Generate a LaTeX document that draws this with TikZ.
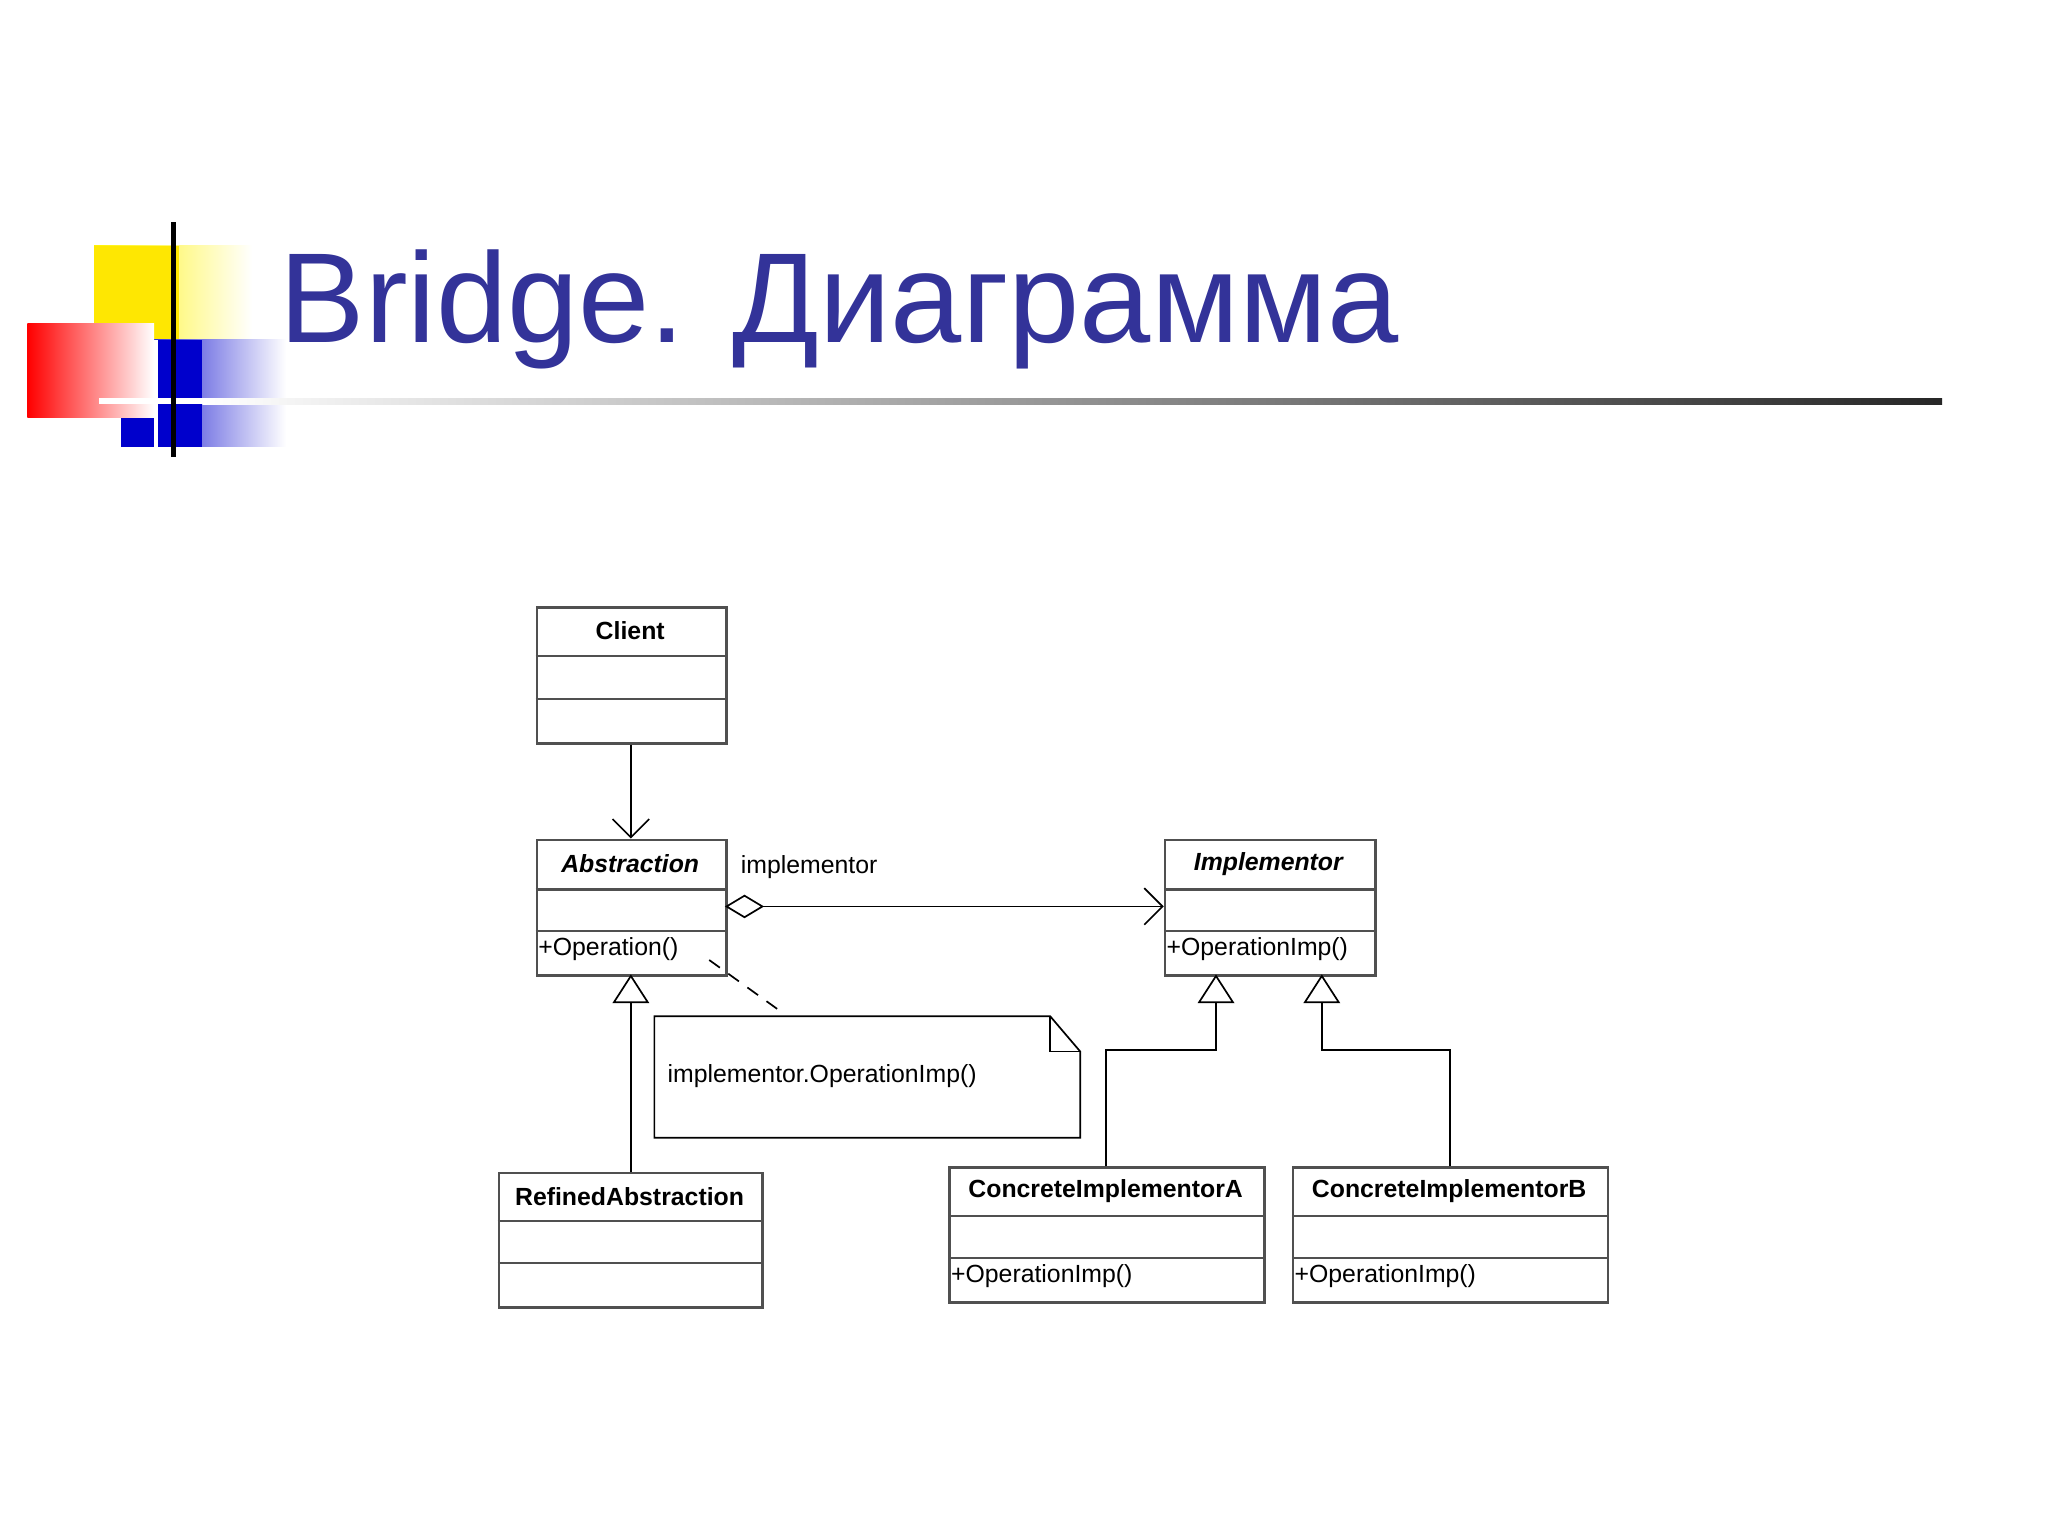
\documentclass[tikz,border=0pt]{standalone}
\usepackage{fontspec}
\setmainfont{Liberation Sans}
\usetikzlibrary{arrows.meta}
\definecolor{ttl}{HTML}{333399}
\definecolor{bx}{HTML}{505050}
\begin{document}
\begin{tikzpicture}[x=1pt,y=-1pt,
  cls/.style={draw=bx,line width=2pt,anchor=north west,inner sep=0pt},
  lbl/.style={font=\fontsize{19}{22}\selectfont,inner sep=1pt},
  ln/.style={draw=black,line width=1.3pt},
  tri/.style={-{Triangle[open,length=22pt,width=28pt,fill=white]}},
  opn/.style={-{Straight Barb[length=14pt,width=28pt,line width=1.3pt]}}]
\useasboundingbox[fill=white] (0,0) rectangle (1568,1176);
% logo
\shade[left color=yellow!90!orange, right color=white] (72,188) rectangle (193,262);
\fill[yellow!90!orange] (72,188) rectangle (137,262);
\shade[left color=blue!80!black, right color=white] (93,260) rectangle (219,342);
\fill[blue!80!black] (93,260) rectangle (155,342);
\shade[shading angle=45, left color=red, right color=white] (21,248) rectangle (118,320);
\fill[white] (76,305) rectangle (220,309);
\fill[white] (118,260) rectangle (121,342);
\fill[black] (131,170) rectangle (135,350);
\shade[left color=white, right color=black!85] (155,305) rectangle (1487,310);
\node[anchor=base west,text=ttl,font=\fontsize{98}{110}\selectfont,inner sep=0pt] (title) at (214,262) {Bridge. Диаграмма};
% classes
\newcommand\umlclass[8]{% name,x1,y1,x2,y2,d1,d2,label
  \node[cls,minimum width=#4-#2,minimum height=#5-#3] (#1) at (#2,#3) {};
  \draw[bx,line width=1.6pt] (#2,#6) -- (#4,#6) (#2,#7) -- (#4,#7);
  \node[lbl,anchor=center] (#1t) at ({(#2+#4)/2},{(#3+#6)/2}) {#8};}
\umlclass{client}{410}{464}{555}{568}{502}{535}{\textbf{Client}}
\umlclass{abs}{410}{642}{555}{746}{681}{713}{\textbf{\textit{Abstraction}}}
\umlclass{impl}{891}{642}{1052}{746}{681}{713}{\textbf{\textit{Implementor}}}
\umlclass{ref}{381}{897}{583}{1000}{935}{967}{\textbf{RefinedAbstraction}}
\umlclass{cia}{726}{893}{967}{996}{931}{963}{\textbf{ConcreteImplementorA}}
\umlclass{cib}{989}{893}{1230}{996}{931}{963}{\textbf{ConcreteImplementorB}}
\node[lbl,anchor=west] (absop) at (411,727) {+Operation()};
\node[lbl,anchor=west] (implop) at (892,727) {+OperationImp()};
\node[lbl,anchor=west] (ciaop) at (727,977) {+OperationImp()};
\node[lbl,anchor=west] (cibop) at (990,977) {+OperationImp()};
% note
\draw[ln,fill=white] (501,778) -- (804,778) -- (827,805) -- (827,871) -- (501,871) -- cycle;
\draw[ln] (804,778) -- (804,805) -- (827,805);
\node[lbl,anchor=west] (notet) at (510,824) {implementor.OperationImp()};
\coordinate (n1) at (543,735); \coordinate (n2) at (600,776);
\draw[ln,dashed,dash pattern=on 10pt off 8pt] (n1) -- (n2);
% connectors
\draw[ln,opn] (client.south -| 483,0) -- (483,642);
\coordinate (ag1) at (555,694); \coordinate (ag2) at (891,694);
\draw[ln,{Diamond[open,length=30pt,width=18pt,fill=white]}-{Straight Barb[length=14pt,width=28pt,line width=1.3pt]}] (ag1) -- (ag2);
\node[lbl,anchor=west] (aglbl) at (566,664) {implementor};
\draw[ln,tri] (483,897) -- (483,746);
\draw[ln,tri] (847,893) -- (847,804) -- (931,804) -- (931,746);
\draw[ln,tri] (1110,893) -- (1110,804) -- (1012,804) -- (1012,746);
\end{tikzpicture}
\end{document}
